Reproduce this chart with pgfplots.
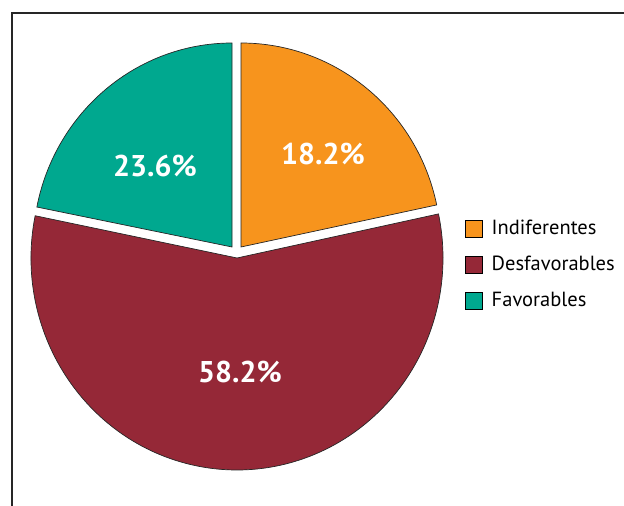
\documentclass[border=0pt]{standalone}
\usepackage{pgfplots}
\pgfplotsset{compat=1.18}
\usepackage{fontspec}
\setmainfont{PT Sans}
\definecolor{cOrange}{HTML}{F7941D}
\definecolor{cMaroon}{HTML}{952837}
\definecolor{cTeal}{HTML}{00A88F}
\begin{document}
\begin{tikzpicture}
\useasboundingbox (0,0) rectangle (624pt,506pt);
\clip (0,0) rectangle (624pt,506pt);
\begin{axis}[
  at={(0,0)}, anchor=south west,
  width=624pt, height=506pt, scale only axis,
  xmin=0, xmax=624, ymin=0, ymax=506,
  hide axis, clip=false,
  legend cell align=left,
  legend image code/.code={\draw[#1, line width=0.7pt] (0pt,-8.5pt) rectangle (17pt,8.5pt); \path (26pt,0pt);},
  legend style={draw=none, fill=none, at={(465/624,1-219/506)}, anchor=north west,
    font=\fontsize{20.5}{22}\selectfont, row sep=16pt, inner sep=0pt, column sep=0pt,
    nodes={inner sep=0pt, text height=15pt, text depth=5pt}},
]
% slices in pixel coordinates: vertex, radii, angles
\fill[cOrange, draw=black!85, line width=0.7pt] (axis cs:241,259) -- ++(11.9:200pt and 204pt)
   arc[start angle=11.9, end angle=90, x radius=200pt, y radius=204pt] -- cycle;
\fill[cTeal, draw=black!85, line width=0.7pt] (axis cs:232,259) -- ++(90:199pt and 204pt)
   arc[start angle=90, end angle=168.7, x radius=199pt, y radius=204pt] -- cycle;
\fill[cMaroon, draw=black!85, line width=0.7pt] (axis cs:237,248) -- ++(168.5:206pt and 212pt)
   arc[start angle=168.5, end angle=372, x radius=206pt, y radius=212pt] -- cycle;
\node[white, font=\bfseries\fontsize{30}{30}\selectfont] at (axis cs:155,340) {23.6\%};
\node[white, font=\bfseries\fontsize{30}{30}\selectfont] at (axis cs:323,352) {18.2\%};
\node[white, font=\bfseries\fontsize{30}{30}\selectfont] at (axis cs:240,134) {58.2\%};
\draw[black!85, line width=1.4pt] (axis cs:12,-5) -- (axis cs:12,493) -- (axis cs:630,493);
\addlegendimage{fill=cOrange, draw=black}
\addlegendentry{Indiferentes}
\addlegendimage{fill=cMaroon, draw=black}
\addlegendentry{Desfavorables}
\addlegendimage{fill=cTeal, draw=black}
\addlegendentry{Favorables}
\end{axis}
\end{tikzpicture}
\end{document}
